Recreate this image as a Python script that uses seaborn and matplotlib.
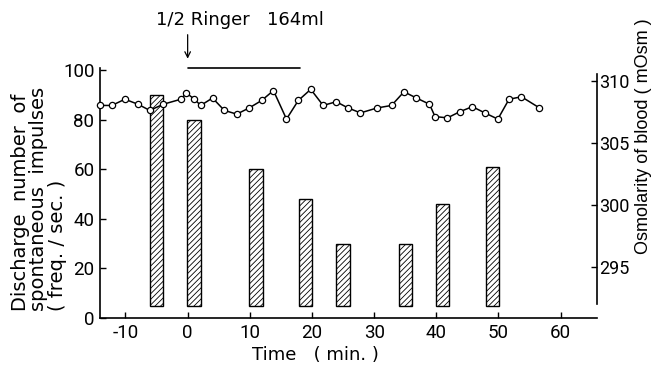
import numpy as np
import matplotlib
matplotlib.use("Agg")
import matplotlib.pyplot as plt
import seaborn as sns

# ---- data ----
bar_time = [-5, 1, 11, 19, 25, 35, 41, 49]
bar_value = [90, 80, 60, 48, 30, 30, 46, 61]
bar_base = 5

osm_time = [-14.1, -12.2, -10.1, -8.0, -6.1, -3.9, -1.1, -0.2, 1.1, 2.1, 4.0, 5.9,
            7.9, 9.9, 11.9, 13.8, 15.9, 17.8, 19.8, 21.8, 23.9, 25.8, 27.8, 30.5,
            32.8, 34.8, 36.8, 38.9, 39.8, 41.8, 43.8, 45.8, 47.8, 49.9, 51.7, 53.7, 56.6]
osm_value = [308.0, 308.0, 308.5, 308.1, 307.6, 308.1, 308.5, 309.0, 308.5, 308.0, 308.6, 307.6,
             307.3, 307.8, 308.4, 309.2, 306.9, 308.4, 309.3, 308.0, 308.3, 307.8, 307.4, 307.8,
             308.0, 309.1, 308.6, 308.1, 307.1, 307.0, 307.5, 307.9, 307.4, 306.9, 308.5, 308.7, 307.8]

x_ticks = [-10, 0, 10, 20, 30, 40, 50, 60]
left_ticks = [0, 20, 40, 60, 80, 100]
right_ticks = [295, 300, 305, 310]

infusion_start = 0
infusion_end = 18
infusion_label = "1/2 Ringer   164ml"

# ---- style ----
sns.set_style("ticks")
plt.rcParams["font.family"] = ["Roboto", "DejaVu Sans"]
plt.rcParams["hatch.linewidth"] = 0.6
plt.rcParams["hatch.color"] = "black"
LABEL_FONT = ["DejaVu Sans"]

fig = plt.figure(figsize=(6.55, 3.67), dpi=100)
ax = fig.add_axes([100 / 655, 1 - 318 / 367, 497 / 655, 250.5 / 367])

sns.barplot(x=bar_time, y=np.array(bar_value) - bar_base, bottom=bar_base,
            native_scale=True, width=2.15 / 6, color="white", saturation=1,
            edgecolor="black", linewidth=1.0, hatch="//////", ax=ax, zorder=2)

ax.set_xlim(-14.1, 65.85)
ax.set_ylim(0, 101)
ax.set_xticks(x_ticks)
ax.set_xticklabels([str(t) for t in x_ticks])
ax.set_yticks(left_ticks)
ax.set_yticklabels([str(t) for t in left_ticks])
ax.tick_params(direction="in", length=4, width=1, labelsize=13.5, pad=4, colors="black")
for s in ["top", "right"]:
    ax.spines[s].set_visible(False)
for s in ["left", "bottom"]:
    ax.spines[s].set_linewidth(1.2)
    ax.spines[s].set_color("black")
ax.set_xlabel("")
ax.set_ylabel("")

ax2 = ax.twinx()
sns.lineplot(x=osm_time, y=osm_value, ax=ax2, color="black", linewidth=1.1,
             marker="o", markersize=4.5, markerfacecolor="white",
             markeredgecolor="black", markeredgewidth=0.9, clip_on=False)
ax2.set_ylim(290.86, 311.06)
ax2.set_yticks(right_ticks)
ax2.set_yticklabels([str(t) for t in right_ticks])
ax2.tick_params(direction="in", length=4, width=1, labelsize=13, pad=1.5, colors="black")
for s in ["top", "left", "bottom"]:
    ax2.spines[s].set_visible(False)
ax2.spines["right"].set_bounds(292, 310.5)
ax2.spines["right"].set_linewidth(1.2)
ax2.spines["right"].set_color("black")
ax2.set_ylabel("")

# infusion annotation
trans = ax.get_xaxis_transform()
ax.annotate("", xy=(infusion_start, 1.024), xytext=(infusion_start, 1.142),
            xycoords=trans, textcoords=trans,
            arrowprops=dict(arrowstyle="->", color="black", lw=0.9),
            annotation_clip=False)
ax.plot([infusion_start, infusion_end], [0.998, 0.998], transform=trans,
        color="black", lw=1.2, clip_on=False)
ax.text(8.4, 1.19, infusion_label, transform=trans, ha="center", va="center",
        fontsize=13, color="black", family=LABEL_FONT)

# axis labels
fig.text(39 / 655, 1 - 199 / 367,
         "Discharge  number  of\nspontaneous  impulses\n( freq. / sec. )",
         rotation=90, ha="center", va="center", multialignment="left",
         fontsize=14, linespacing=0.95, color="black", family=LABEL_FONT)
fig.text(643 / 655, 1 - 136 / 367, "Osmolarity of blood ( mOsm )",
         rotation=90, ha="center", va="center", fontsize=13, color="black",
         family=["Liberation Sans", "DejaVu Sans"])
fig.text(315 / 655, 1 - 355 / 367, "Time   ( min. )", ha="center", va="center",
         fontsize=13, color="black", family=LABEL_FONT)

fig.savefig("out.png", dpi=100)
